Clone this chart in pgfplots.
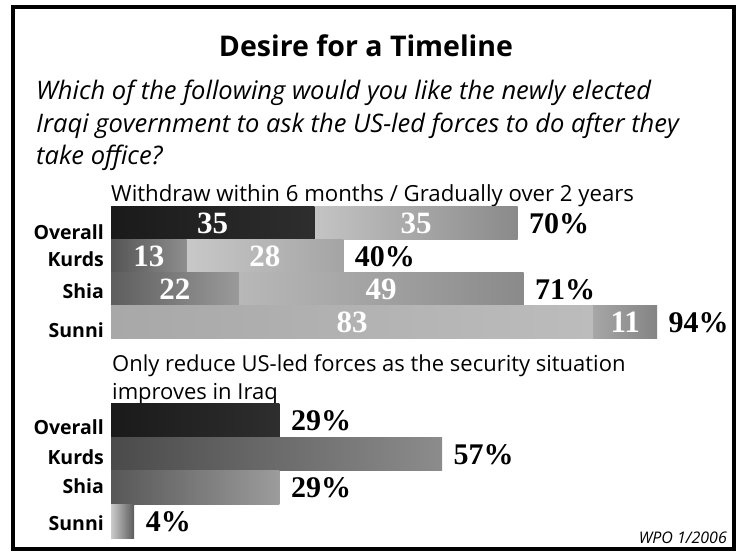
\documentclass[border=0pt]{standalone}
\usepackage{fontspec}
\setmainfont{Open Sans}
\newfontfamily\numfont{Liberation Serif}
\usepackage{pgfplots}
\pgfplotsset{compat=1.18}

\definecolor{ovA}{HTML}{1A1A1A}\definecolor{ovB}{HTML}{2E2E2E}
\definecolor{ovtA}{HTML}{C4C4C4}\definecolor{ovtB}{HTML}{8A8A8A}
\definecolor{kA}{HTML}{555555}\definecolor{kB}{HTML}{8E8E8E}
\definecolor{ktA}{HTML}{C8C8C8}\definecolor{ktB}{HTML}{A4A4A4}
\definecolor{sA}{HTML}{5E5E5E}\definecolor{sB}{HTML}{9A9A9A}
\definecolor{stA}{HTML}{B8B8B8}\definecolor{stB}{HTML}{8A8A8A}
\definecolor{suA}{HTML}{A8A8A8}\definecolor{suB}{HTML}{BCBCBC}
\definecolor{sutA}{HTML}{A6A6A6}\definecolor{sutB}{HTML}{848484}
\definecolor{lkA}{HTML}{4A4A4A}\definecolor{lkB}{HTML}{8C8C8C}
\definecolor{lsA}{HTML}{575757}\definecolor{lsB}{HTML}{9C9C9C}
\definecolor{lsuA}{HTML}{CCCCCC}\definecolor{lsuB}{HTML}{5A5A5A}

% shadings for the second segment (drawn as total bar, first segment on top)
\pgfdeclarehorizontalshading{ovtwo}{100bp}{color(0bp)=(ovtA); color(50bp)=(ovtA); color(75bp)=(ovtB); color(100bp)=(ovtB)}
\pgfdeclarehorizontalshading{ktwo}{100bp}{color(0bp)=(ktA); color(41.25bp)=(ktA); color(75bp)=(ktB); color(100bp)=(ktB)}
\pgfdeclarehorizontalshading{stwo}{100bp}{color(0bp)=(stA); color(40.5bp)=(stA); color(75bp)=(stB); color(100bp)=(stB)}
\pgfdeclarehorizontalshading{sutwo}{100bp}{color(0bp)=(sutA); color(69.15bp)=(sutA); color(75bp)=(sutB); color(100bp)=(sutB)}

\newcommand{\totfont}{\numfont\bfseries\fontsize{30}{30}\selectfont}
\newcommand{\valfont}{\numfont\bfseries\fontsize{31}{31}\selectfont}

\pgfplotsset{
  panel/.style={
    anchor=south west, x=5.81pt, xmin=0, xmax=107, ymin=0.5, ymax=4.5,
    axis line style={draw=none}, tick style={draw=none},
    xtick=\empty, ytick={1,2,3,4}, yticklabels={Sunni,Shia,Kurds,Overall},
    clip=false, bar width=1,
  },
  seg/.style={xbar, bar shift=0pt, draw=none},
  tot/.style={xbar, bar shift=0pt, draw=none, point meta=x,
    nodes near coords={\pgfmathprintnumber[assume math mode=true]{\pgfplotspointmeta}\%},
    nodes near coords style={anchor=west, font=\totfont, text=black, xshift=8pt}},
}

\begin{document}
\begin{tikzpicture}
\begin{scope}[x=1pt,y=1pt]
\useasboundingbox (0,0) rectangle (739,552);
\fill[white] (0,0) rectangle (739,552);
\draw[line width=4pt] (12.5,545) rectangle (734,3.5);
\node[anchor=base, font=\bfseries\fontsize{28.5}{32}\selectfont, inner sep=0pt] at (366,495) {Desire for a Timeline};
\node[anchor=base west, font=\itshape\fontsize{25.5}{32}\selectfont, inner sep=0pt] at (36,452) {Which of the following would you like the newly elected};
\node[anchor=base west, font=\itshape\fontsize{25.5}{32}\selectfont, inner sep=0pt] at (36,419) {Iraqi government to ask the US-led forces to do after they};
\node[anchor=base west, font=\itshape\fontsize{25.5}{32}\selectfont, inner sep=0pt] at (36,387) {take office?};
\node[anchor=base west, font=\fontsize{22.2}{28}\selectfont, inner sep=0pt] at (111,350) {Withdraw within 6 months / Gradually over 2 years};
\node[anchor=base west, font=\fontsize{22}{28}\selectfont, inner sep=0pt] at (112,180) {Only reduce US-led forces as the security situation};
\node[anchor=base west, font=\fontsize{22}{28}\selectfont, inner sep=0pt] at (112,152) {improves in Iraq};
\node[anchor=base east, font=\itshape\fontsize{16}{16}\selectfont, inner sep=0pt] at (727,9) {WPO 1/2006};
\end{scope}

% upper panel: withdraw within 6 months / gradually over 2 years
\begin{axis}[panel, at={(111pt,213pt)}, y=33pt,
  yticklabel style={font=\bfseries\fontsize{19.5}{19.5}\selectfont, inner sep=0pt, xshift=-7pt,
    yshift={-(8*(\ticknum==0)+2*(\ticknum==1)+3*(\ticknum==2)+9*(\ticknum==3))*1pt}}]
% totals (second segment colour), then first segment on top
\addplot[tot, shade, shading=ovtwo] coordinates {(70,4)};
\addplot[seg, left color=ovA, right color=ovB] coordinates {(35,4)};
\addplot[tot, shade, shading=ktwo] coordinates {(40,3)};
\addplot[seg, left color=kA, right color=kB] coordinates {(13,3)};
\addplot[tot, shade, shading=stwo] coordinates {(71,2)};
\addplot[seg, left color=sA, right color=sB] coordinates {(22,2)};
\addplot[tot, shade, shading=sutwo] coordinates {(94,1)};
\addplot[seg, left color=suA, right color=suB] coordinates {(83,1)};
\begin{scope}[every node/.style={font=\valfont, text=white}]
\node at (axis cs:17.5,4) {35};
\node at (axis cs:52.5,4) {35};
\node at (axis cs:6.5,3) {13};
\node at (axis cs:26.5,3) {28};
\node at (axis cs:11,2) {22};
\node at (axis cs:46.5,2) {49};
\node at (axis cs:41.5,1) {83};
\node at (axis cs:88.5,1) {11};
\end{scope}
\end{axis}

% lower panel: only reduce as security improves
\begin{axis}[panel, at={(111pt,14pt)}, y=33.5pt,
  yticklabel style={font=\bfseries\fontsize{19.5}{19.5}\selectfont, inner sep=0pt, xshift=-7pt,
    yshift={-(2*(\ticknum==0)-2*(\ticknum==1)+3*(\ticknum==2)+6*(\ticknum==3))*1pt}}]
\addplot[tot, left color=ovA, right color=ovB] coordinates {(29,4)};
\addplot[tot, left color=lkA, right color=lkB] coordinates {(57,3)};
\addplot[tot, left color=lsA, right color=lsB] coordinates {(29,2)};
\addplot[tot, left color=lsuA, right color=lsuB] coordinates {(4,1)};
\end{axis}
\end{tikzpicture}
\end{document}
